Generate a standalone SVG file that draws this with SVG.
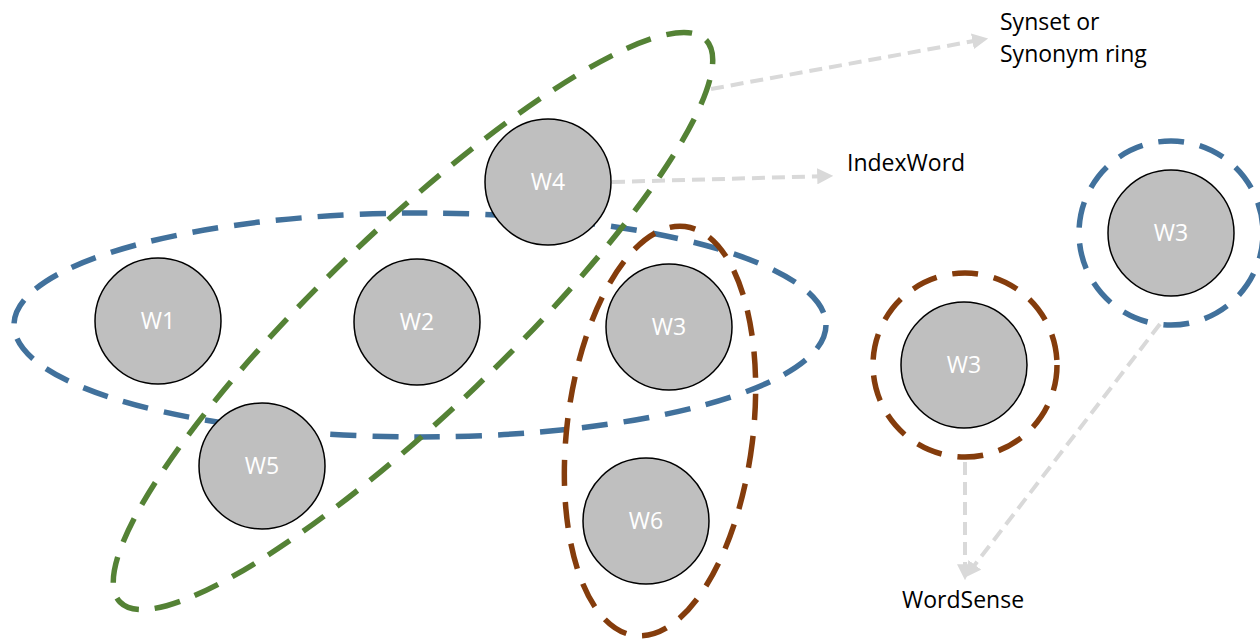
<svg xmlns="http://www.w3.org/2000/svg" width="1260" height="639" viewBox="0 0 1260 639">
<style>
.node{fill:#bfbfbf;stroke:#000;stroke-width:1.5}
.nl{font-family:"Open Sans","Liberation Sans",sans-serif;font-size:23px;fill:#fff;text-anchor:middle}
.lbl{font-family:"Open Sans","Liberation Sans",sans-serif;font-size:23px;fill:#000}
.ring{fill:none;stroke-width:5.5;stroke-dasharray:26 16}
.blue{stroke:#41719c}
.green{stroke:#548235}
.brown{stroke:#843c0c}
.conn{fill:none;stroke:#d9d9d9;stroke-width:4;stroke-dasharray:13 7}
</style>
<defs>
<marker id="ah" viewBox="0 0 10 10" refX="8" refY="5" markerWidth="4" markerHeight="4" orient="auto" markerUnits="strokeWidth">
<path d="M0,0 L10,5 L0,10 Z" fill="#d9d9d9"/>
</marker>
</defs>
<rect width="1260" height="639" fill="#fff"/>
<g id="groupings">
<ellipse id="synset-blue" class="ring blue" cx="420" cy="325" rx="406" ry="112"/>
<ellipse id="synset-green" class="ring green" cx="413" cy="321" rx="406" ry="91" transform="rotate(-43.8 413 321)"/>
<ellipse id="synset-brown" class="ring brown" cx="660" cy="431" rx="93" ry="206" transform="rotate(7 660 431)"/>
</g>
<g id="connectors">
<line class="conn" x1="711" y1="89" x2="985" y2="39" marker-end="url(#ah)"/>
<line class="conn" x1="612" y1="182" x2="830" y2="176" marker-end="url(#ah)"/>
<line class="conn" x1="965" y1="462" x2="965" y2="577" marker-end="url(#ah)"/>
<line class="conn" x1="1160" y1="324" x2="967" y2="575" marker-end="url(#ah)"/>
</g>
<g id="W1"><circle class="node" cx="158" cy="321" r="63"/><text class="nl" x="158" y="329">W1</text></g>
<g id="W2"><circle class="node" cx="417" cy="322" r="63"/><text class="nl" x="417" y="330">W2</text></g>
<g id="W3"><circle class="node" cx="669" cy="327" r="63"/><text class="nl" x="669" y="335">W3</text></g>
<g id="W4"><circle class="node" cx="548" cy="182" r="63"/><text class="nl" x="548" y="190">W4</text></g>
<g id="W5"><circle class="node" cx="262" cy="466" r="63"/><text class="nl" x="262" y="474">W5</text></g>
<g id="W6"><circle class="node" cx="646" cy="521" r="63"/><text class="nl" x="646" y="529">W6</text></g>
<g id="W3-sense-brown">
<circle class="ring brown" cx="965" cy="365" r="92"/>
<circle class="node" cx="964" cy="365" r="63"/><text class="nl" x="964" y="373">W3</text>
</g>
<g id="W3-sense-blue">
<circle class="ring blue" cx="1171" cy="233" r="92"/>
<circle class="node" cx="1171" cy="233" r="63"/><text class="nl" x="1171" y="241">W3</text>
</g>
<g id="labels">
<text class="lbl" x="1000" y="30">Synset or</text>
<text class="lbl" x="1000" y="62">Synonym ring</text>
<text class="lbl" x="847" y="171">IndexWord</text>
<text class="lbl" x="902" y="608">WordSense</text>
</g>
</svg>
